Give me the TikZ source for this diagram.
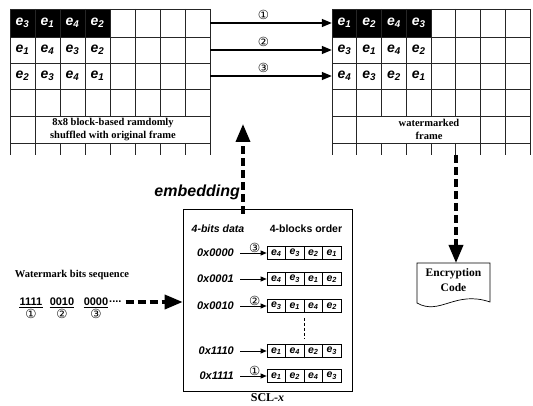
\documentclass[tikz,border=0pt]{standalone}
\usepackage{fontspec}
\setmainfont{Liberation Serif}
\setsansfont{Liberation Sans}
\newfontfamily\circfont{DejaVu Sans}
\usetikzlibrary{positioning,arrows.meta,calc}

\newcommand{\ee}[1]{\textit{e}\textsubscript{\textit{#1}}}

\tikzset{
  gridline/.style={line width=0.8pt, black!85},
  cellw/.style={minimum width=24.75pt, minimum height=27pt, inner sep=0pt, font=\sffamily\bfseries\fontsize{14}{14}\selectfont},
  cellb/.style={cellw, text=white},
  rowarrow/.style={-{Triangle[length=10pt,width=8pt]}, line width=1.4pt},
  bigdash/.style={-{Triangle[length=18pt,width=14pt]}, line width=3.5pt, dash pattern=on 8pt off 4pt},
  blockarrow/.style={-{Triangle[length=6pt,width=5pt]}, line width=0.7pt},
  blockcell/.style={draw, line width=0.7pt, minimum width=18.5pt, minimum height=13pt, inner sep=0pt, font=\sffamily\bfseries\fontsize{10.5}{10}\selectfont},
  codelabel/.style={font=\sffamily\bfseries\itshape\fontsize{11}{11}\selectfont, inner sep=1pt},
  circnum/.style={font=\circfont\fontsize{12.5}{12}\selectfont, inner sep=0pt},
  serifbold/.style={font=\bfseries\fontsize{10.5}{13}\selectfont, align=center, inner sep=0pt},
  bitsnum/.style={font=\sffamily\bfseries\fontsize{11}{11}\selectfont, inner sep=0pt},
}

\begin{document}
\begin{tikzpicture}[x=1pt, y=-1pt]
    \useasboundingbox (0,0) rectangle (533,406);

    % Original frame
    \fill (10,9) rectangle (110,37);
    \foreach \y in {9,37,63,89,116,143} \draw[gridline] (10,\y) -- (210,\y);
    \foreach \x in {10,35,210} \draw[gridline] (\x,9) -- (\x,155);
    \foreach \x in {60,85,...,185} {
        \draw[gridline] (\x,9) -- (\x,116);
        \draw[gridline] (\x,143) -- (\x,155);
    }
    \foreach \t [count=\i] in {3,1,4,2} \node[cellb] (L1\i) at ({-2.5+25*\i},23) {\ee{\t}};
    \foreach \t [count=\i] in {1,4,3,2} \node[cellw] (L2\i) at ({-2.5+25*\i},50) {\ee{\t}};
    \foreach \t [count=\i] in {2,3,4,1} \node[cellw] (L3\i) at ({-2.5+25*\i},76) {\ee{\t}};
    \node[serifbold] (ltext) at (113,129.5) {8x8 block-based ramdomly\\shuffled with original frame};

    % Watermarked frame
    \fill (332,9) rectangle (431,37);
    \foreach \y in {9,37,63,89,116,143} \draw[gridline] (332,\y) -- (530,\y);
    \foreach \x in {332,356.75,480.5,505.25,530} \draw[gridline] (\x,9) -- (\x,155);
    \foreach \x in {381.5,406.25,431,455.75} {
        \draw[gridline] (\x,9) -- (\x,116);
        \draw[gridline] (\x,143) -- (\x,155);
    }
    \foreach \t [count=\i] in {1,2,4,3} \node[cellb] (R1\i) at ({319.625+24.75*\i},23) {\ee{\t}};
    \foreach \t [count=\i] in {3,1,4,2} \node[cellw] (R2\i) at ({319.625+24.75*\i},50) {\ee{\t}};
    \foreach \t [count=\i] in {4,3,2,1} \node[cellw] (R3\i) at ({319.625+24.75*\i},76) {\ee{\t}};
    \node[serifbold] (rtext) at (429,129.5) {watermarked\\frame};

    % Row arrows
    \foreach \n/\r/\y in {①/1/23,②/2/50,③/3/76} {
        \coordinate (L\r e) at (210,\y);
        \draw[rowarrow] (L\r e) -- (R\r1.west) node[pos=0.44, above=3pt, circnum] (a\r) {\n};
    }

    % SCL-x table
    \node[draw, line width=0.7pt, minimum width=169pt, minimum height=182pt] (scl) at (267.5,300) {};
    \node[below=2pt of scl, font=\bfseries\fontsize{12}{12}\selectfont, inner sep=0pt] (scllabel) {SCL-\textit{x}};
    \node[font=\sffamily\bfseries\itshape\fontsize{10.5}{10.5}\selectfont] (hdata) at (218,229) {4-bits data};
    \node[font=\sffamily\bfseries\fontsize{10.5}{10.5}\selectfont] (horder) at (306,229) {4-blocks order};
    \foreach \code/\y/\a/\b/\c/\d [count=\i] in {0x0000/253/4/3/2/1, 0x0001/279/4/3/1/2, 0x0010/306/3/1/4/2, 0x1110/351/1/4/2/3, 0x1111/376/1/2/4/3} {
        \node[codelabel, anchor=east] (c\i) at (235,\y) {\code};
        \foreach \e [count=\j] in {\a,\b,\c,\d} \node[blockcell] (b\i\j) at ({257.75+18.5*\j},\y) {\ee{\e}};
        \draw[blockarrow, shorten <=5pt] (c\i.east) -- (b\i1.west);
    }
    \foreach \n/\r in {③/1,②/3,①/5} \node[circnum, above left=0pt and 6pt of b\r1.west] (s\r) {\n};
    \draw[line width=0.6pt, dash pattern=on 3pt off 2pt, shorten <=5pt, shorten >=5pt] (b32.south east) -- (b42.north east);

    % Embedding
    \coordinate (embtop) at (243,124);
    \draw[bigdash] ([yshift=-5pt]scl.north -| embtop) -- (embtop);
    \node[anchor=east, font=\sffamily\bfseries\itshape\fontsize{16}{16}\selectfont, inner sep=0pt] (emb) at (240,192) {embedding};

    % Watermark bits
    \node[serifbold] (wmtitle) at (72,275) {Watermark bits sequence};
    \node[bitsnum] (g1) at (31,302) {1111};
    \node[bitsnum] (g2) at (62,302) {0010};
    \node[bitsnum] (g3) at (96,302) {0000};
    \node[bitsnum, anchor=west] (gdots) at (109,302) {....};
    \foreach \g/\n in {1/①,2/②,3/③} {
        \draw[line width=0.6pt] ([yshift=-1.5pt]g\g.south west) -- ([yshift=-1.5pt]g\g.south east);
        \node[circnum, below=3pt of g\g] (u\g) {\n};
    }
    \draw[bigdash, shorten <=4pt] (gdots.east) -- (gdots.east -| scl.west);

    % Encryption code
    \draw[line width=0.7pt] (417,263) -- (490,263) -- (490,302) .. controls (455,290) and (440,316) .. (417,303) -- cycle;
    \coordinate (enctop) at (456,263);
    \coordinate (rgbot) at (456,155);
    \node[font=\bfseries\fontsize{11.5}{15}\selectfont, align=center, inner sep=0pt] (enc) at (453.5,280) {Encryption\\Code};
    \draw[bigdash] (rgbot) -- (enctop);
\end{tikzpicture}
\end{document}
